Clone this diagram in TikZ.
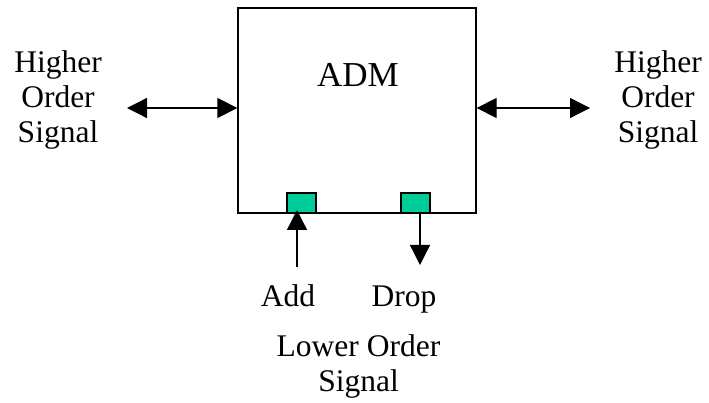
\documentclass[tikz,border=0pt]{standalone}
\usepackage{fontspec}
\setmainfont{Liberation Serif}
\usetikzlibrary{arrows.meta}
\definecolor{portgreen}{RGB}{0,204,153}
\begin{document}
\begin{tikzpicture}[x=1pt,y=-1pt,
  lbl/.style={anchor=base,inner sep=0pt,align=center,font=\fontsize{31.5}{35.3}\selectfont},
  conn/.style={line width=1.3pt,-{Triangle[length=20pt,width=20pt]}},
  bconn/.style={line width=1.3pt,{Triangle[length=20pt,width=20pt]}-{Triangle[length=20pt,width=20pt]}},
  port/.style={draw,line width=1.3pt,fill=portgreen,minimum width=29pt,minimum height=20pt,inner sep=0pt}]
\useasboundingbox (0,0) rectangle (709,403);
\node[draw,line width=1.3pt,minimum width=238pt,minimum height=205pt,inner sep=0pt] (adm) at (357,110.5) {};
\node[anchor=base,inner sep=0pt,font=\fontsize{35}{40}\selectfont] (admtxt) at (358,86.7) {ADM};
\node[lbl] (hl) at (58,143) {Higher\\Order\\Signal};
\node[lbl] (hr) at (658,143) {Higher\\Order\\Signal};
\node[port] (addp) at (301.5,203) {};
\node[port] (dropp) at (415.5,203) {};
\node[lbl] (addt) at (288,306) {Add};
\node[lbl] (dropt) at (404,306) {Drop};
\node[lbl] (lower) at (358.5,391.5) {Lower Order\\Signal};
\coordinate (l1) at (127,108);
\coordinate (r1) at (590,108);
\coordinate (a1) at (297,267);
\coordinate (a2) at (297,210);
\coordinate (d1) at (420,213);
\coordinate (d2) at (420,265);
\draw[bconn] (l1) -- (adm.west |- l1);
\draw[bconn] (adm.east |- r1) -- (r1);
\draw[conn] (a1) -- (a2);
\draw[conn] (d1) -- (d2);
\end{tikzpicture}
\end{document}
